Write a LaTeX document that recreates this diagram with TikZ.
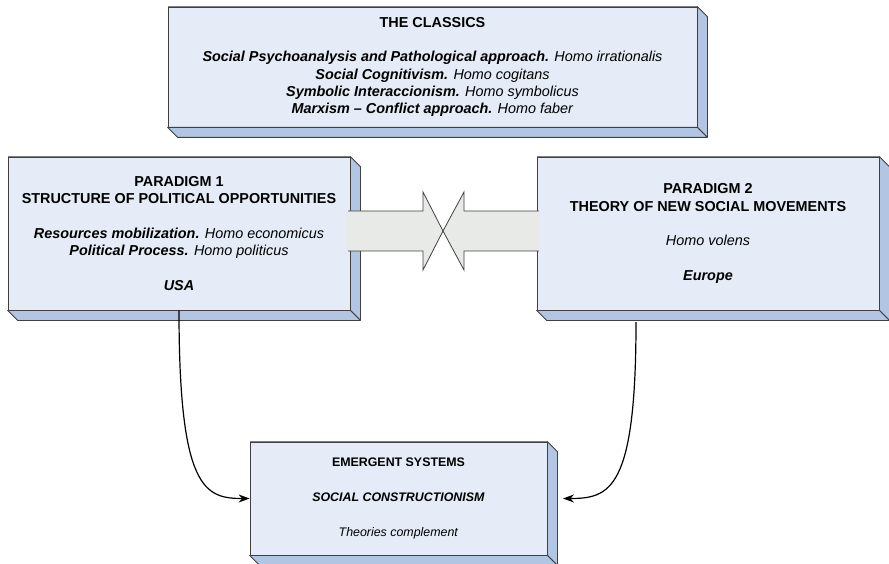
\documentclass[tikz,border=0pt]{standalone}
\usepackage{fontspec}
\setmainfont{Liberation Sans}
\usetikzlibrary{arrows.meta,calc,positioning}
\definecolor{slabfront}{RGB}{229,236,247}
\definecolor{slabside}{RGB}{178,198,228}
\definecolor{slabline}{RGB}{64,64,64}
\definecolor{bridgefill}{RGB}{232,234,232}
\newcommand{\school}[2]{\textbf{\textit{#1}} \textit{#2}}
% right and bottom faces of a raised box
\newcommand{\slab}[1]{%
 \draw[fill=slabside,draw=slabline,line width=.8pt,line join=round]
  (#1.north east) -- ++(10,10) -- ($(#1.south east)+(10,10)$) -- (#1.south east) -- cycle;
 \draw[fill=slabside,draw=slabline,line width=.8pt,line join=round]
  (#1.south west) -- ++(10,10) -- ($(#1.south east)+(10,10)$) -- (#1.south east) -- cycle;
 \draw[black!50,line width=.8pt] (#1.north west) -- (#1.north east);}

\begin{document}
\begin{tikzpicture}[x=1pt,y=-1pt,>=Stealth,
  face/.style={draw=slabline,fill=slabfront,line width=.8pt,inner sep=0pt,align=center},
  bigtext/.style={font=\fontsize{14.4}{17.3}\selectfont},
  midtext/.style={font=\fontsize{12.4}{17.5}\selectfont},
  link/.style={->,line width=1.2pt,>={Stealth[length=11pt,width=8pt]}}]
 \useasboundingbox (0,0) rectangle (889,564);

 % the three upper boxes
 \node[face,bigtext,minimum width=529pt,minimum height=120pt] (classics) at (432.5,67)
  {\textbf{THE CLASSICS}\\[17.3pt]
   \school{Social Psychoanalysis and Pathological approach.}{Homo irrationalis}\\
   \school{Social Cognitivism.}{Homo cogitans}\\
   \school{Symbolic Interaccionism.}{Homo symbolicus}\\
   \school{Marxism -- Conflict approach.}{Homo faber}};
 \node[face,bigtext,minimum width=342pt,minimum height=153pt] (par1) at (179,233.5)
  {\textbf{PARADIGM 1}\\
   \textbf{STRUCTURE OF POLITICAL OPPORTUNITIES}\\[17.3pt]
   \school{Resources mobilization.}{Homo economicus}\\
   \school{Political Process.}{Homo politicus}\\[17.3pt]
   \textbf{\textit{USA}}};
 \node[face,bigtext,minimum width=342pt,minimum height=153pt] (par2) at (708,233.5)
  {\textbf{PARADIGM 2}\\
   \textbf{THEORY OF NEW SOCIAL MOVEMENTS}\\[17.3pt]
   \textit{Homo volens}\\[17.3pt]
   \textbf{\textit{Europe}}};
 \node[face,midtext,minimum width=297pt,minimum height=113pt] (emergent) at (398.5,498.5)
  {\textbf{EMERGENT SYSTEMS}\\[17.5pt]
   \textbf{\textit{SOCIAL CONSTRUCTIONISM}}\\[17.5pt]
   \textit{Theories complement}};
 \slab{classics}
 \slab{par1}
 \slab{par2}
 \slab{emergent}

 % two block arrows meeting tip to tip
 \fill[bridgefill] (346,211) -- (423,211) -- (423,192) -- (443,231) -- (423,270) -- (423,251) -- (346,251) -- cycle;
 \draw[slabline,line width=.8pt] (348,211) -- (423,211) -- (423,192) -- (443,231) -- (423,270) -- (423,251) -- (348,251);
 \fill[bridgefill] (539,211) -- (464,211) -- (464,192) -- (443,231) -- (464,270) -- (464,251) -- (539,251) -- cycle;
 \draw[slabline,line width=.8pt] (539,211) -- (464,211) -- (464,192) -- (443,231) -- (464,270) -- (464,251) -- (539,251);

 % both paradigms lead down to the emergent systems
 \coordinate (par2foot) at (636,322);
 \coordinate (emergentside) at (563,498.5);
 \draw[link] (par1.south) .. controls (179,490) and (205,498.5) .. (emergent.west);
 \draw[link] (par2foot) .. controls (636,490) and (610,498.5) .. (emergentside);
\end{tikzpicture}
\end{document}
